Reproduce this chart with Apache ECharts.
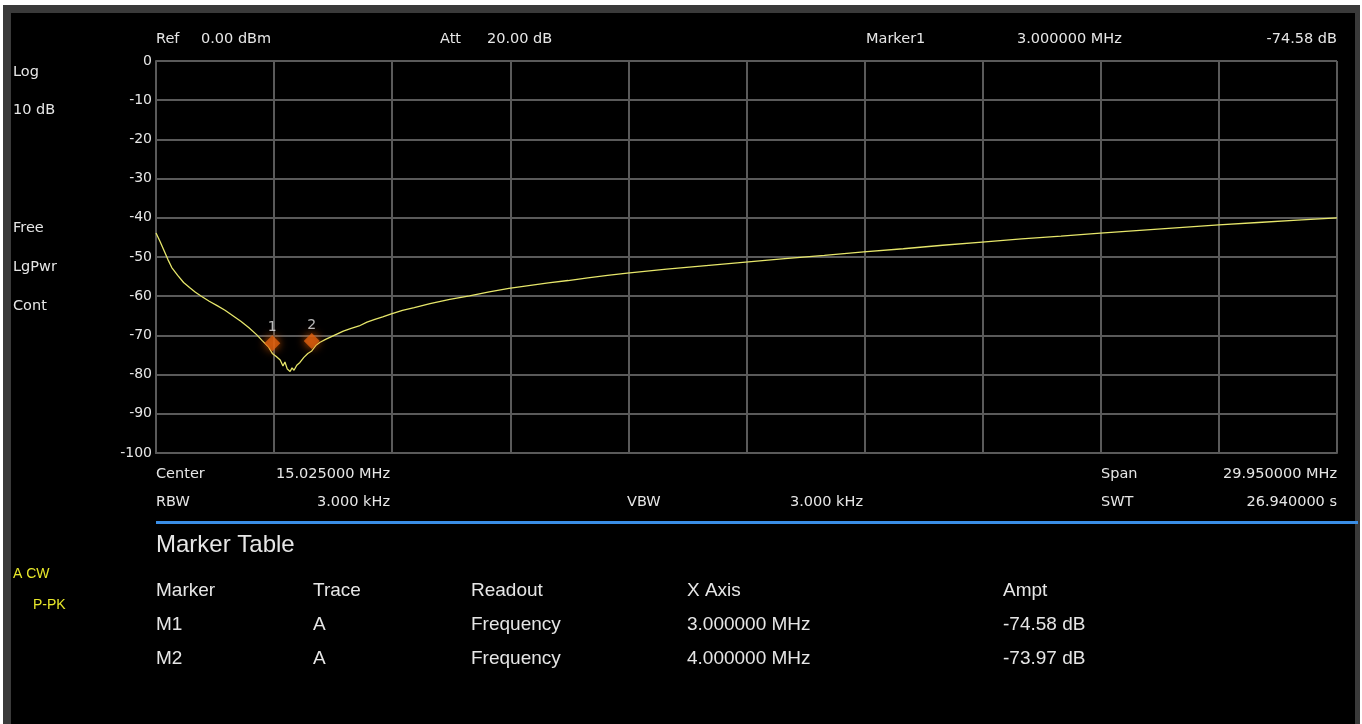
<!DOCTYPE html>
<html>
<head>
<meta charset="utf-8">
<script src="https://cdn.jsdelivr.net/npm/echarts@6/dist/echarts.min.js"></script>
<style>
html,body{margin:0;padding:0;background:#fff;}
#c{width:1362px;height:724px;}
</style>
</head>
<body>
<div id="c"></div>
<script>
// Trace A: frequency (MHz) and amplitude (dB)
const freqMHz = [0.05,0.15,0.25,0.35,0.45,0.6,0.75,0.9,1.05,1.2,1.4,1.6,1.8,2.0,2.2,2.4,2.6,2.75,2.9,3.0,3.1,3.2,3.27,3.32,3.38,3.45,3.5,3.55,3.62,3.7,3.8,3.9,4.0,4.1,4.2,4.35,4.5,4.65,4.8,5.0,5.2,5.4,5.6,5.8,6.0,6.3,6.6,7.0,7.5,8.0,8.5,9.0,9.5,10.0,10.5,11.0,11.5,12.0,13.0,14.0,15.0,16.0,17.0,18.0,19.0,20.0,21.0,22.0,23.0,24.0,25.0,26.0,27.0,28.0,29.0,30.0];
const ampDB = [-43.9,-46.0,-48.3,-50.6,-52.7,-54.7,-56.5,-57.8,-59.0,-60.0,-61.3,-62.4,-63.6,-65.0,-66.4,-68.0,-69.8,-71.4,-72.9,-74.6,-75.4,-76.3,-77.8,-76.8,-78.6,-79.2,-78.3,-78.9,-77.6,-76.9,-75.6,-74.6,-73.97,-72.6,-71.8,-71.0,-70.3,-69.6,-68.9,-68.2,-67.6,-66.6,-65.9,-65.3,-64.6,-63.6,-62.9,-61.9,-60.8,-59.9,-58.9,-58.0,-57.3,-56.6,-56.0,-55.3,-54.7,-54.1,-53.1,-52.2,-51.3,-50.4,-49.6,-48.7,-47.9,-47.0,-46.2,-45.4,-44.7,-43.9,-43.2,-42.5,-41.8,-41.2,-40.6,-40.0];
// Markers
const markerNames = ['M1','M2'];
const markerLabels = ['1','2'];
const markerFreq = [3.0, 4.0];
const markerAmp = [-74.58, -73.97];
const markerFreqText = ['3.000000 MHz','4.000000 MHz'];
const markerAmpText = ['-74.58 dB','-73.97 dB'];
// Axis
const yMin = -100, yMax = 0, yStep = 10;
const xStart = 0.05, xStop = 30;

const chart = echarts.init(document.getElementById('c'));
const hdr = '14.5px "DejaVu Sans"';
const tbl = '19px "Liberation Sans"';
const W = '#e6e6e6';
function t(x,y,text,opt){
  opt = opt||{};
  return {type:'text', z:100, style:{x:x,y:y,text:text,fill:opt.fill||W,font:opt.font||hdr,align:opt.align||'left',verticalAlign:'middle'}};
}
const graphics = [
  {type:'rect', z:-10, shape:{x:3,y:5,width:1357,height:719}, style:{fill:'#3a3a3a'}},
  {type:'rect', z:-9, shape:{x:11,y:13,width:1344,height:711}, style:{fill:'#000'}},
  t(156,39,'Ref'), t(201,39,'0.00 dBm'),
  t(440,39,'Att'), t(487,39,'20.00 dB'),
  t(866,39,'Marker1'), t(1017,39,'3.000000 MHz'), t(1337,39,'-74.58 dB',{align:'right'}),
  t(13,72,'Log'), t(13,110,'10 dB'),
  t(13,228,'Free'), t(13,267,'LgPwr'), t(13,306,'Cont'),
  t(156,474,'Center'), t(390,474,'15.025000 MHz',{align:'right'}),
  t(1101,474,'Span'), t(1337,474,'29.950000 MHz',{align:'right'}),
  t(156,502,'RBW'), t(390,502,'3.000 kHz',{align:'right'}),
  t(627,502,'VBW'), t(863,502,'3.000 kHz',{align:'right'}),
  t(1101,502,'SWT'), t(1337,502,'26.940000 s',{align:'right'}),
  {type:'rect', z:100, shape:{x:156,y:521,width:1202,height:3}, style:{fill:'#3a8ee6'}},
  t(156,545,'Marker Table',{font:'24px "Liberation Sans"'}),
  t(156,591,'Marker',{font:tbl}), t(313,591,'Trace',{font:tbl}), t(471,591,'Readout',{font:tbl}),
  t(687,591,'X Axis',{font:tbl}), t(1003,591,'Ampt',{font:tbl}),
  t(13,574,'A CW',{fill:'#e8e82a',font:'14px "Liberation Sans"'}),
  t(33,605,'P-PK',{fill:'#e8e82a',font:'14px "Liberation Sans"'})
];
markerNames.forEach(function(n,i){
  const y = 625 + i*34;
  graphics.push(t(156,y,n,{font:tbl}), t(313,y,'A',{font:tbl}), t(471,y,'Frequency',{font:tbl}),
    t(687,y,markerFreqText[i],{font:tbl}), t(1003,y,markerAmpText[i],{font:tbl}));
});

chart.setOption({
  backgroundColor:'#fff',
  animation:false,
  grid:{left:156,right:25,top:61,bottom:271,containLabel:false},
  xAxis:[
    {type:'value', min:xStart, max:xStop, show:false},
    {type:'value', min:0, max:10, interval:1, position:'bottom',
     axisLine:{show:true,lineStyle:{color:'#5a5a5a',width:2}}, axisTick:{show:false}, axisLabel:{show:false},
     splitLine:{show:true,lineStyle:{color:'#5a5a5a',width:2}}}
  ],
  yAxis:{type:'value', min:yMin, max:yMax, interval:yStep,
    axisLine:{show:true,lineStyle:{color:'#5a5a5a',width:2}}, axisTick:{show:false},
    axisLabel:{color:W,fontSize:14,fontFamily:'DejaVu Sans',margin:4},
    splitLine:{show:true,lineStyle:{color:'#5a5a5a',width:2}}},
  graphic:graphics,
  series:[
    {type:'line', xAxisIndex:0, data:freqMHz.map(function(f,i){return [f,ampDB[i]];}),
     showSymbol:false, lineStyle:{color:'#e6e66a',width:1.3}, z:5},
    {type:'scatter', xAxisIndex:0, symbol:'diamond', symbolSize:16, symbolOffset:[0,-10],
     data:markerFreq.map(function(f,i){return {value:[f,markerAmp[i]], label:{formatter:markerLabels[i]}};}),
     itemStyle:{color:'#e0600f',shadowBlur:10,shadowColor:'#ff6a00'},
     label:{show:true,position:'top',distance:1,color:W,fontSize:14,fontFamily:'DejaVu Sans'}, z:10}
  ]
});
</script>
</body>
</html>
